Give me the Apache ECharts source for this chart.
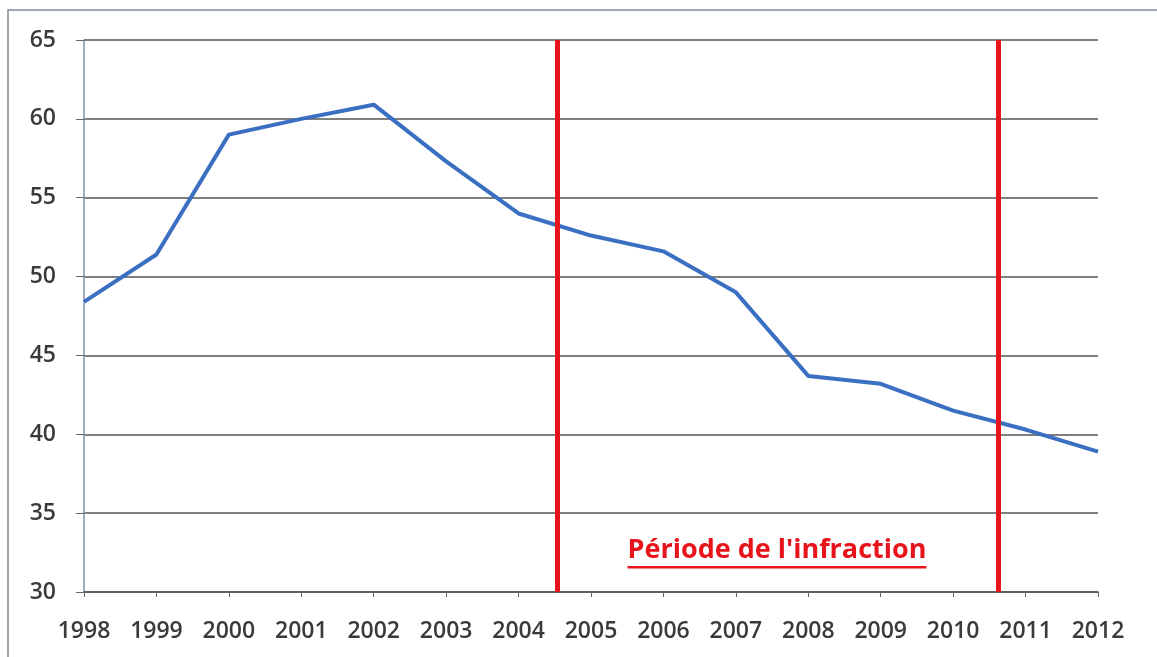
<!DOCTYPE html>
<html><head><meta charset="utf-8">
<script src="https://cdn.jsdelivr.net/npm/echarts@6/dist/echarts.min.js"></script>
<style>html,body{margin:0;padding:0;background:#fff}#c{width:1157px;height:657px}</style>
</head><body><div id="c"></div>
<script>
const years = [1998,1999,2000,2001,2002,2003,2004,2005,2006,2007,2008,2009,2010,2011,2012];
const values = [48.4,51.4,59.0,60.0,60.9,57.3,54.0,52.6,51.6,49.0,43.7,43.2,41.5,40.3,38.9];
const periodBounds = [2004.53, 2010.62];
const periodLabel = "Période de l'infraction";
const yTicks = [30,35,40,45,50,55,60,65];

const chart = echarts.init(document.getElementById('c'), null, {renderer:'canvas'});
const font = '"Open Sans", "Noto Sans", sans-serif';
const titleFont = 'bold 27px ' + font;
const ctx = document.createElement('canvas').getContext('2d');
ctx.font = titleFont;
const w = ctx.measureText(periodLabel).width;
chart.setOption({
  backgroundColor:'#fff',
  animation:false,
  grid:{left:84, right:59, top:40, bottom:65},
  xAxis:{
    type:'value', min:years[0], max:years[years.length-1], interval:1,
    axisLine:{show:true, onZero:false, lineStyle:{color:'#555', width:1.5}},
    axisTick:{show:true, length:5, lineStyle:{color:'#666'}},
    splitLine:{show:false},
    axisLabel:{color:'#3a3a3a', fontSize:23, fontWeight:600, fontFamily:font, margin:28, formatter:v=>String(Math.round(v))}
  },
  yAxis:{
    type:'value', min:yTicks[0], max:yTicks[yTicks.length-1], interval:5,
    axisLine:{show:true, lineStyle:{color:'#8190a3', width:1.5}},
    axisTick:{show:true, length:8, lineStyle:{color:'#666'}},
    splitLine:{show:true, lineStyle:{color:'#555', width:1.5}},
    axisLabel:{color:'#3a3a3a', fontSize:23, fontWeight:600, fontFamily:font, margin:28}
  },
  series:[{
    type:'line',
    data: years.map((y,i)=>[y, values[i]]),
    symbol:'none',
    lineStyle:{color:'#3b6fc2', width:4},
    z:3,
    markLine:{
      silent:true, symbol:'none',
      label:{show:false},
      lineStyle:{color:'#e8141c', width:5, type:'solid'},
      data: periodBounds.map(v=>({xAxis:v}))
    }
  }],
  graphic:[
    {type:'rect', shape:{x:8, y:10, width:1400, height:900}, style:{fill:'none', stroke:'#7f8a99', lineWidth:1.5}, silent:true, z:-1},
    {type:'text', x:777, y:550, style:{text:periodLabel, fill:'#e8141c', font:titleFont, textAlign:'center', textVerticalAlign:'middle'}, z:10},
    {type:'rect', shape:{x:777-w/2, y:566, width:w, height:2.5}, style:{fill:'#e8141c'}, z:10}
  ]
});
</script></body></html>
